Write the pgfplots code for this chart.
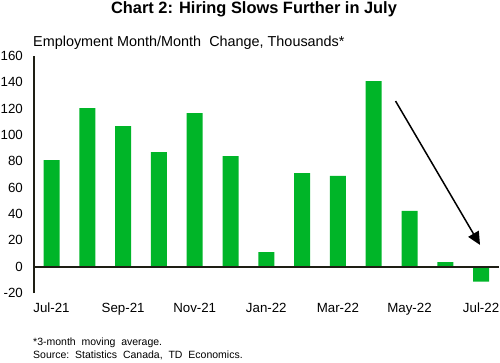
\documentclass[border=0pt]{standalone}
\usepackage{pgfplots}
\pgfplotsset{compat=1.18}
\usepackage{fontspec}
\setmainfont{Liberation Sans}
\usetikzlibrary{arrows.meta}
\definecolor{barg}{RGB}{0,181,40}
\definecolor{axc}{RGB}{30,30,20}
\begin{document}
\begin{tikzpicture}[x=1pt,y=1pt]
\path[use as bounding box] (0,0) rectangle (500,-362);
\node[anchor=base,inner sep=0pt,font=\bfseries\fontsize{16.4}{18}\selectfont] at (254,-13.5) {Chart 2: Hiring Slows Further in July};
\node[anchor=base west,inner sep=0pt,font=\fontsize{14.4}{16}\selectfont] at (33,-46) {Employment Month/Month\ \ Change, Thousands*};
\node[anchor=west,inner sep=0pt,font=\fontsize{10.5}{12}\selectfont] at (33,-343) {*3-month\ \ moving\ \ average.};
\node[anchor=west,inner sep=0pt,font=\fontsize{10.5}{12}\selectfont] at (33,-355) {Source:\ \ Statistics\ \ Canada,\ \ TD\ \ Economics.};
\begin{axis}[at={(34pt,-293pt)}, anchor=south west, scale only axis,
  width=465pt, height=237pt,
  xmin=-0.489, xmax=12.5, ymin=-20, ymax=160,
  axis line style={draw=none},
  major tick length=0pt,
  ytick={-20,0,...,160},
  xtick={0,2,...,12},
  xticklabels={Jul-21,Sep-21,Nov-21,Jan-22,Mar-22,May-22,Jul-22},
  /pgf/number format/assume math mode=true,
  tick label style={font=\fontsize{13.3}{15}\selectfont},
  yticklabel style={inner sep=0pt, xshift=-11pt},
  xticklabel style={inner sep=0pt, yshift=-10pt},
  clip=false,
]
\addplot[ybar, bar width=16pt, fill=barg, draw=none] coordinates {
(0,81) (1,120.5) (2,106.8) (3,87) (4,116.7) (5,84) (6,11) (7,71) (8,69) (9,141) (10,42.3) (11,3.5) (12,-11.4)};
\draw[axc, line width=2pt] (rel axis cs:0,0) -- (rel axis cs:0,1);
\draw[axc, line width=2pt] (axis cs:-0.489,0) -- (axis cs:12.5,0);
\draw[black, line width=1.5pt, -{Triangle[length=13pt,width=12pt]}] (axis cs:9.61,125.8) -- (axis cs:11.97,16.5);
\end{axis}
\end{tikzpicture}
\end{document}
